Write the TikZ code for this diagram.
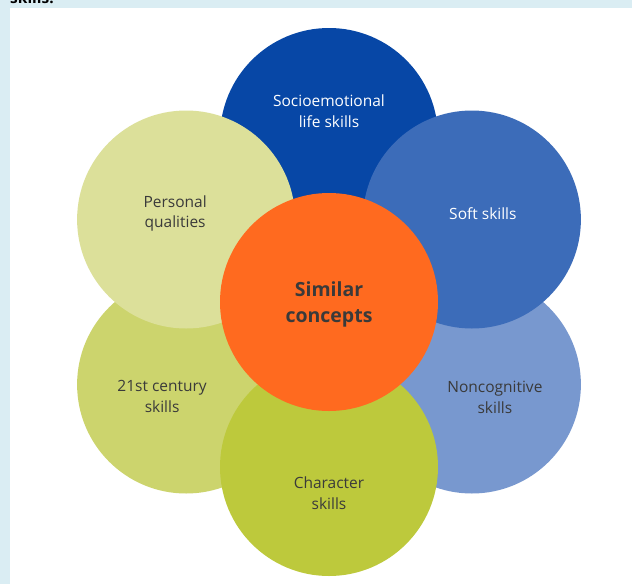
\documentclass[tikz,border=0pt]{standalone}
\usepackage{fontspec}
\setmainfont{Open Sans}
\usetikzlibrary{calc}

\definecolor{pageblue}{HTML}{DAEDF3}
\definecolor{socioblue}{HTML}{0747A6}
\definecolor{softblue}{HTML}{3C6CB9}
\definecolor{noncogblue}{HTML}{7898CF}
\definecolor{personalgreen}{HTML}{DCE09A}
\definecolor{centurygreen}{HTML}{CCD46D}
\definecolor{charactergreen}{HTML}{BDC93C}
\definecolor{conceptorange}{HTML}{FF6A1F}
\definecolor{labelgray}{HTML}{3A3A3A}

\tikzset{
	petal/.style={circle,minimum size=218pt,inner sep=0pt,fill=#1},
	petaltext/.style={align=center,font=\fontsize{15.5}{20.5}\selectfont,text=labelgray},
}

\begin{document}
\begin{tikzpicture}[x=1pt,y=-1pt]
	\useasboundingbox (0,0) rectangle (632,584);
	\fill[pageblue] (0,0) rectangle (632,584);
	\fill[white] (10,8) rectangle (632,584);
	\begin{scope}
		\clip (0,0) rectangle (632,584);
		\node[anchor=base west,inner sep=0pt,font=\fontsize{15.5}{20}\selectfont\bfseries] (prev) at (10,3) {skills.};
	\end{scope}

	\coordinate (c) at (329,302);
	% outer circles, back ones first
	\foreach \name/\angle/\col in {socio/90/socioblue, noncog/-30/noncogblue, century/210/centurygreen, soft/30/softblue, personal/150/personalgreen, character/-90/charactergreen} {
		\node[petal=\col] (\name) at ($(c)+(\angle:165pt)$) {};
	}

	\node[petal=conceptorange] (concepts) at (c) {};

	\node[petaltext,text=white] (sociotext) at ($(socio)+(0,-26)$) {Socioemotional\\life skills};
	\node[petaltext,text=white] (softtext) at ($(soft)+(11,-6)$) {Soft skills};
	\node[petaltext] (personaltext) at ($(personal)+(-11,-6)$) {Personal\\qualities};
	\node[petaltext] (noncogtext) at ($(noncog)+(23,13)$) {Noncognitive\\skills};
	\node[petaltext] (centurytext) at ($(century)+(-24,12)$) {21st century\\skills};
	\node[petaltext] (charactertext) at ($(character)+(0,26)$) {Character\\skills};
	\node[petaltext,font=\fontsize{19.5}{26}\selectfont\bfseries] (conceptstext) at ($(concepts)+(0,2)$) {Similar\\concepts};
\end{tikzpicture}
\end{document}
